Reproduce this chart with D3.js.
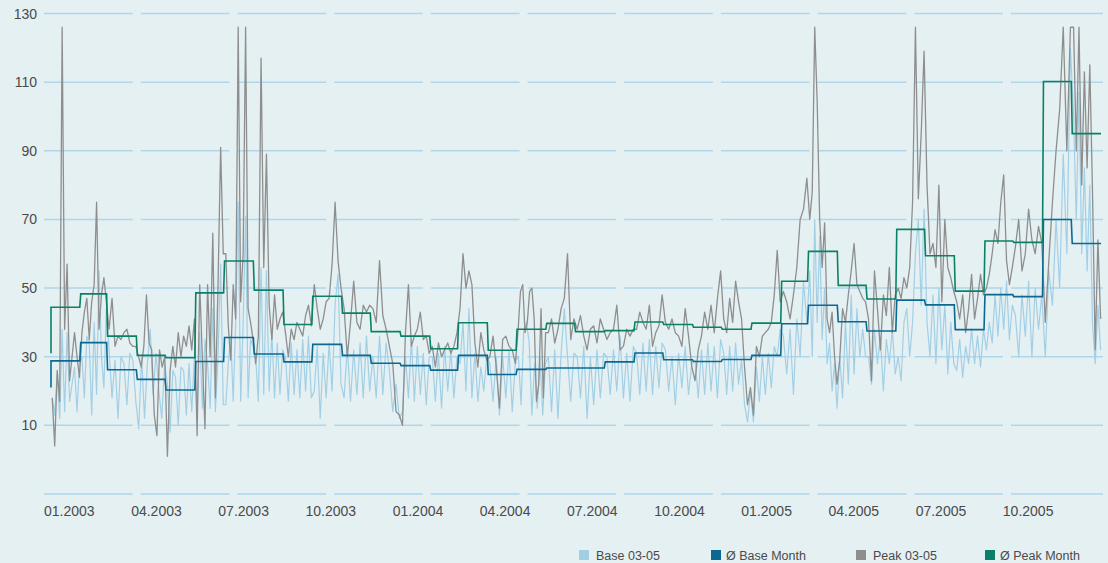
<!DOCTYPE html>
<html>
<head>
<meta charset="utf-8">
<script src="https://cdn.jsdelivr.net/npm/d3@7"></script>
<style>
  html, body { margin: 0; padding: 0; background: #e5f0f3; }
  svg { display: block; font-family: "Liberation Sans", Arial, sans-serif; }
</style>
</head>
<body>
<svg id="chart" width="1108" height="563"></svg>
<script>
// Monthly averages, Jan 2003 .. Dec 2005
const baseMonth = [28.8, 34.1, 26.2, 23.4, 20.3, 28.6, 35.6, 30.8, 28.5, 33.6, 30.4, 28.1,
                   27.4, 26.1, 30.4, 24.8, 26.3, 26.7, 26.7, 28.5, 31.1, 29.1, 28.6, 29.2,
                   30.4, 39.6, 45.0, 40.2, 37.5, 46.5, 45.1, 37.9, 48.1, 47.5, 70.0, 63.0];
const peakMonth = [44.4, 48.3, 36.0, 30.4, 29.7, 48.6, 57.9, 49.4, 39.4, 47.6, 42.7, 37.3,
                   36.0, 32.3, 39.9, 31.9, 38.0, 39.7, 37.3, 37.6, 40.1, 39.4, 38.6, 38.0,
                   39.8, 52.0, 60.7, 50.8, 46.8, 67.1, 59.4, 49.1, 63.7, 63.3, 110.2, 95.0];
// first-day values of the monthly lines
const baseMonthStart = 21;
const peakMonthStart = 31;

// Daily prices, one row per month
const baseDaily = [
  [18, 13, 25, 12, 38, 14, 37, 17, 22, 27, 14, 28],
  [30, 18, 36, 34, 13, 40, 19, 55, 30, 21, 44],
  [32, 18, 29, 12, 30, 28, 16, 31, 29, 17],
  [9, 30, 12, 28, 38, 19, 31, 20, 12, 28],
  [22, 8, 26, 24, 10, 27, 26, 13, 28, 14, 30],
  [13, 37, 15, 35, 28, 15, 44, 14, 30, 57, 16],
  [16, 28, 36, 17, 40, 75, 17, 40, 71, 18, 35, 33],
  [30, 17, 56, 19, 55, 20, 37, 18, 34, 19, 32],
  [30, 17, 34, 19, 32, 18, 35, 20, 36, 18],
  [20, 33, 12, 31, 18, 34, 20, 45, 54, 22],
  [18, 33, 17, 32, 19, 34, 18, 36, 20],
  [30, 18, 36, 19, 34, 26, 14, 22, 12],
  [14, 30, 18, 35, 17, 33, 19, 31, 16, 30],
  [30, 17, 31, 15, 33, 20, 32, 18, 30],
  [28, 40, 20, 44, 18, 31, 17, 27, 20, 30],
  [28, 17, 30, 13, 30, 18, 32, 14, 29],
  [30, 16, 38, 40, 34, 13, 28, 15, 30, 13, 28],
  [30, 14, 32, 12, 31, 44, 30, 17, 31],
  [30, 18, 33, 12, 30, 16, 32, 18, 31],
  [30, 19, 32, 20, 36, 18, 31, 17, 33],
  [31, 19, 34, 20, 35, 19, 33, 21, 34],
  [32, 20, 30, 16, 31, 21, 33, 19, 28],
  [29, 18, 32, 19, 34, 20, 33, 18, 35],
  [31, 19, 33, 20, 34, 22, 29, 16, 11, 20],
  [11, 27, 17, 30, 19, 31, 21, 33, 30, 38],
  [36, 25, 38, 19, 41, 30, 52, 40],
  [55, 30, 70, 40, 65, 35, 50, 28, 34, 20, 28, 15],
  [30, 18, 40, 22, 48, 25, 44, 30, 38, 30],
  [30, 22, 38, 28, 36, 20, 35, 28, 38, 25],
  [30, 23, 40, 44, 30, 40, 60, 70, 45, 73],
  [40, 30, 48, 28, 50, 32, 45, 25, 40, 28],
  [26, 35, 24, 33, 28, 38, 28, 36, 27, 38],
  [32, 40, 34, 48, 36, 50, 38, 52, 35, 45],
  [42, 30, 48, 36, 52, 30, 50, 38, 48],
  [30, 55, 45, 70, 50, 89, 60, 120],
  [100, 70, 107, 60, 85, 55, 80, 40, 28, 45, 32]
];
const peakDaily = [
  [18, 4, 26, 17, 126, 38, 57, 23, 30, 37, 30, 24],
  [37, 43, 47, 35, 46, 51, 75, 38, 48, 53, 46],
  [38, 47, 33, 36, 35, 37, 38, 34, 33, 33],
  [30, 27, 33, 48, 34, 32, 13, 7, 32, 27, 30],
  [1, 26, 33, 27, 37, 30, 36, 33, 39, 32, 41],
  [7, 51, 30, 9, 51, 30, 66, 18, 51, 91, 60],
  [60, 39, 29, 51, 41, 126, 46, 60, 126, 44, 40, 35],
  [28, 36, 117, 56, 89, 45, 35, 48, 38, 41, 43],
  [37, 30, 38, 35, 40, 38, 36, 42, 45, 39],
  [51, 44, 38, 41, 46, 47, 57, 75, 58, 50],
  [44, 30, 40, 52, 40, 38, 45, 43, 45],
  [44, 40, 58, 42, 38, 33, 28, 14, 13],
  [10, 37, 51, 33, 36, 38, 43, 35, 36, 31],
  [33, 27, 34, 30, 32, 34, 31, 33, 37],
  [44, 60, 50, 55, 51, 34, 27, 37, 32, 29],
  [30, 36, 27, 15, 35, 36, 33, 32, 28],
  [38, 49, 51, 37, 40, 49, 50, 41, 17, 22, 44, 18, 37],
  [37, 41, 34, 38, 44, 47, 60, 35, 41],
  [38, 42, 36, 32, 38, 39, 34, 41, 38],
  [35, 37, 38, 45, 32, 33, 38, 36, 38],
  [38, 43, 40, 38, 45, 33, 37, 39, 48],
  [40, 38, 41, 37, 36, 33, 44, 36, 27],
  [23, 32, 36, 43, 38, 45, 37, 47, 55],
  [41, 37, 47, 40, 52, 46, 41, 27, 16, 21],
  [13, 33, 30, 36, 37, 38, 40, 48, 61, 46],
  [49, 46, 41, 48, 56, 70, 73, 82],
  [70, 78, 126, 104, 70, 56, 69, 41, 37, 43, 30, 22],
  [29, 44, 40, 48, 55, 63, 51, 49, 47, 46],
  [41, 23, 55, 44, 32, 48, 42, 56, 37, 48],
  [50, 47, 53, 50, 56, 75, 126, 76, 95, 119],
  [80, 60, 63, 56, 80, 46, 70, 56, 53, 49],
  [46, 41, 48, 37, 44, 54, 41, 47, 54, 48],
  [50, 54, 60, 67, 63, 75, 83, 58, 51, 56],
  [62, 70, 55, 60, 73, 64, 60, 68, 63],
  [40, 58, 75, 90, 102, 126, 90, 126],
  [126, 90, 126, 80, 113, 85, 115, 78, 32, 64, 41]
];

const quarterLabels = ["01.2003", "04.2003", "07.2003", "10.2003", "01.2004", "04.2004",
                       "07.2004", "10.2004", "01.2005", "04.2005", "07.2005", "10.2005"];
const yTicks = [130, 110, 90, 70, 50, 30, 10];
const gridValues = [130, 110, 90, 70, 50, 30, 10, -10];
const legendNames = ["Base 03-05", "Ø Base Month", "Peak 03-05", "Ø Peak Month"];

const colors = {
  base: "#a3cfe5",
  baseMonth: "#0b6991",
  peak: "#8e8e8e",
  peakMonth: "#0a8166",
  grid: "#afd6e9",
  text: "#4a4a4a"
};

const svg = d3.select("#chart");

const months = d3.timeMonth.range(new Date(2003, 0, 1), new Date(2006, 0, 1));
const x = d3.scaleTime()
  .domain([new Date(2003, 0, 1), new Date(2005, 11, 31)])
  .range([51, 1101]);
const y = d3.scaleLinear().domain([-10, 130]).range([494, 13.5]);

// gridlines, broken into 11 segments
const gridLeft = 44, gridRight = 1103, segStep = 96.7, segW = 88.7, segCount = 11;
const segs = d3.range(segCount);
gridValues.forEach(v => {
  svg.append("g").selectAll("line")
    .data(segs)
    .enter()
    .append("line")
      .attr("x1", i => gridLeft + i * segStep)
      .attr("x2", i => i === segCount - 1 ? gridRight : gridLeft + i * segStep + segW)
      .attr("y1", y(v))
      .attr("y2", y(v))
      .attr("stroke", colors.grid)
      .attr("stroke-width", 1.5);
});

// y labels
svg.append("g").selectAll("text")
  .data(yTicks)
  .enter()
  .append("text")
    .attr("x", 37)
    .attr("y", d => y(d))
    .attr("dy", "0.36em")
    .attr("text-anchor", "end")
    .attr("font-size", 14)
    .attr("fill", colors.text)
    .text(d => d);

// x labels, evenly spaced per quarter
const xq = d3.scaleLinear().domain([0, 12]).range([44, 1090]);
svg.append("g").selectAll("text")
  .data(quarterLabels)
  .enter()
  .append("text")
    .attr("x", (d, i) => xq(i))
    .attr("y", 516)
    .attr("font-size", 14)
    .attr("fill", colors.text)
    .text(d => d);

// turn month rows into dated points
function dailyPoints(rows) {
  let pts = [];
  months.forEach((m, i) => {
    const next = d3.timeMonth.offset(m, 1);
    const n = rows[i].length;
    rows[i].forEach((v, j) => {
      pts.push({ date: new Date(+m + (j + 0.5) / n * (next - m)), value: v });
    });
  });
  return pts;
}

function monthPoints(vals, startVal) {
  let pts = [{ date: months[0], value: startVal }];
  months.forEach((m, i) => {
    const next = d3.timeMonth.offset(m, 1);
    pts.push({ date: m, value: vals[i] });
    pts.push({ date: d3.timeDay.offset(next, -1), value: vals[i] });
  });
  return pts;
}

const line = d3.line().x(d => x(d.date)).y(d => y(d.value));

svg.append("path")
  .datum(dailyPoints(baseDaily))
  .attr("d", line)
  .attr("fill", "none")
  .attr("stroke", colors.base)
  .attr("stroke-width", 1.2)
  .attr("stroke-linejoin", "round");

svg.append("path")
  .datum(dailyPoints(peakDaily))
  .attr("d", line)
  .attr("fill", "none")
  .attr("stroke", colors.peak)
  .attr("stroke-width", 1.3)
  .attr("stroke-linejoin", "round");

svg.append("path")
  .datum(monthPoints(baseMonth, baseMonthStart))
  .attr("d", line)
  .attr("fill", "none")
  .attr("stroke", colors.baseMonth)
  .attr("stroke-width", 1.6);

svg.append("path")
  .datum(monthPoints(peakMonth, peakMonthStart))
  .attr("d", line)
  .attr("fill", "none")
  .attr("stroke", colors.peakMonth)
  .attr("stroke-width", 1.6);

// legend
const legendColors = [colors.base, colors.baseMonth, colors.peak, colors.peakMonth];
const legendX = [579, 711, 856, 985];
const legend = svg.append("g").selectAll("g")
  .data(legendNames)
  .enter()
  .append("g")
    .attr("transform", (d, i) => `translate(${legendX[i]},550)`);

legend.append("rect")
  .attr("width", 10)
  .attr("height", 10)
  .attr("fill", (d, i) => legendColors[i]);

legend.append("text")
  .attr("x", (d, i) => i % 2 ? 15 : 17)
  .attr("y", 10)
  .attr("font-size", 12.5)
  .attr("fill", colors.text)
  .text(d => d);
</script>
</body>
</html>
